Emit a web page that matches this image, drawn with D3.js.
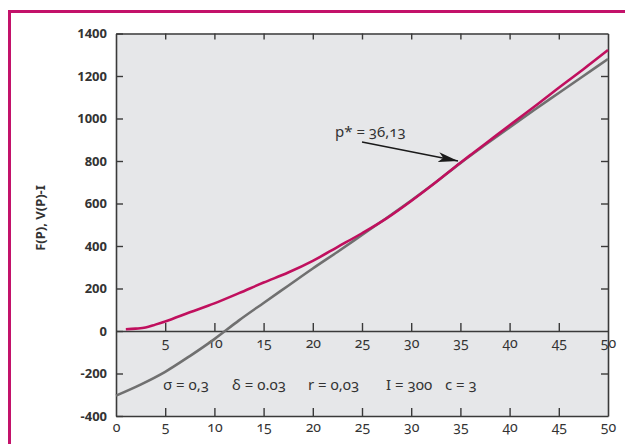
<!DOCTYPE html>
<html lang="en">
<head>
    <meta charset="UTF-8">
    <script src="https://cdn.jsdelivr.net/npm/d3@7"></script>
    <title>F(P), V(P)-I</title>
    <style>
        body { margin: 0; background: #fff; }
        .ytick text { font-family: "Noto Sans", sans-serif; font-weight: 700; font-size: 13px; fill: #333; }
        .xtick text { font-family: "Noto Sans", sans-serif; font-size: 14px; fill: #333; font-variant-numeric: oldstyle-nums; font-feature-settings: "onum" 1; }
        .param { font-family: "Noto Sans", sans-serif; font-size: 15px; fill: #333; font-feature-settings: "onum" 1; }
        .ytitle { font-family: "Noto Sans", sans-serif; font-weight: 700; font-size: 13px; fill: #333; }
    </style>
</head>
<body>
<div id="chart"></div>
<script>
// V(P)-I (gray) and F(P) (red)
var pGray = [0, 2.5, 5, 7.5, 10, 12.5, 15, 17.5, 20, 22.5, 25, 27.5, 30, 32.5, 35, 37.5, 40, 42.5, 45, 47.5, 50];
var vGray = [-304, -252, -192, -118, -38, 50, 132, 213, 294, 372, 452, 532, 614, 700, 790, 875, 958, 1040, 1120, 1200, 1280];
var pRed = [1, 2, 3, 4, 5, 7.5, 10, 12.5, 15, 17.5, 20, 22.5, 25, 27.5, 30, 32.5, 35, 36.13, 37.5, 40, 42.5, 45, 47.5, 50];
var fRed = [8, 11, 16, 30, 45, 88, 130, 178, 228, 275, 330, 395, 460, 530, 612, 700, 792, 832, 880, 968, 1055, 1145, 1232, 1322];
var yTicks = [-400, -200, 0, 200, 400, 600, 800, 1000, 1200, 1400];
var xTicks = [0, 5, 10, 15, 20, 25, 30, 35, 40, 45, 50];
var params = ["σ = 0,3", "δ = 0.03", "r = 0,03", "I = 300", "c = 3"];
var pStar = 36.13;

var W = 625, H = 444;
var svg = d3.select("#chart").append("svg").attr("width", W).attr("height", H);

var x = d3.scaleLinear().domain([0, 50]).range([116, 608]);
var y = d3.scaleLinear().domain([-400, 1400]).range([416, 33.5]);

// crimson frame (left + top)
svg.append("path")
    .attr("d", "M9.5," + H + "V11.5H" + W)
    .attr("fill", "none").attr("stroke", "#c3126a").attr("stroke-width", 3);

// plot background
svg.append("rect")
    .attr("x", x(0)).attr("y", y(1400))
    .attr("width", x(50) - x(0)).attr("height", y(-400) - y(1400))
    .attr("fill", "#e6e7e9");

var axisColor = "#3a3a3a";
function styleAxis(g) {
    g.select(".domain").attr("stroke", axisColor).attr("stroke-width", 1.6);
    g.selectAll(".tick line").attr("stroke", axisColor).attr("stroke-width", 1.4);
}
function plainText(g) {
    g.attr("font-family", null).attr("font-size", null);
    g.selectAll("text").attr("fill", null);
}

// left axis with labels, ticks inward
svg.append("g").attr("class", "ytick")
    .attr("transform", "translate(" + x(0) + ",0)")
    .call(d3.axisLeft(y).tickValues(yTicks).tickSizeInner(-7).tickSizeOuter(0).tickPadding(9).tickFormat(d => String(d)))
    .call(styleAxis)
    .call(plainText);

// right axis, ticks inward
svg.append("g")
    .attr("transform", "translate(" + x(50) + ",0)")
    .call(d3.axisLeft(y).tickValues(yTicks.filter(d => d > -400 && d < 1400 && d !== 0)).tickSizeInner(7).tickSizeOuter(0).tickFormat(""))
    .call(styleAxis);

// top axis, ticks inward
svg.append("g")
    .attr("transform", "translate(0," + y(1400) + ")")
    .call(d3.axisTop(x).tickValues(xTicks.filter(d => d > 0 && d < 50)).tickSizeInner(-6).tickSizeOuter(0).tickFormat(""))
    .call(styleAxis);

// bottom axis
svg.append("g").attr("class", "xtick")
    .attr("transform", "translate(0," + y(-400) + ")")
    .call(d3.axisBottom(x).tickValues(xTicks).tickSizeInner(-8).tickSizeOuter(0).tickPadding(6))
    .call(styleAxis)
    .call(g => g.selectAll(".tick line").filter(d => d === 0 || d === 50).remove())
    .call(plainText);

// zero axis
svg.append("g").attr("class", "xtick")
    .attr("transform", "translate(0," + y(0) + ")")
    .call(d3.axisBottom(x).tickValues(xTicks.filter(d => d > 0)).tickSizeInner(-8).tickSizeOuter(0).tickPadding(7))
    .call(styleAxis)
    .call(g => g.selectAll(".tick line").filter(d => d === 50).remove())
    .call(plainText);

// curves
var line = d3.line().x(d => x(d[0])).y(d => y(d[1])).curve(d3.curveMonotoneX);
svg.append("path")
    .datum(pGray.map((p, i) => [p, vGray[i]]))
    .attr("d", line)
    .attr("fill", "none").attr("stroke", "#707070").attr("stroke-width", 2.6);
svg.append("path")
    .datum(pRed.map((p, i) => [p, fRed[i]]))
    .attr("d", line)
    .attr("fill", "none").attr("stroke", "#c0105e").attr("stroke-width", 2.6);

// annotation p*
svg.append("text").attr("class", "param")
    .attr("x", 335).attr("y", 137)
    .text("p* = " + String(pStar).replace(".", ","));
svg.append("defs").append("marker")
    .attr("id", "arrow").attr("viewBox", "0 0 20 10")
    .attr("refX", 20).attr("refY", 5)
    .attr("markerWidth", 20).attr("markerHeight", 10)
    .attr("markerUnits", "userSpaceOnUse").attr("orient", "auto")
    .append("path").attr("d", "M0,0L20,5L0,10L5,5Z").attr("fill", "#1a1a1a");
svg.append("line")
    .attr("x1", 362).attr("y1", 142)
    .attr("x2", 458).attr("y2", 161)
    .attr("stroke", "#1a1a1a").attr("stroke-width", 1.4)
    .attr("marker-end", "url(#arrow)");

// parameters
var paramX = [163, 232, 308, 386, 445];
svg.selectAll("text.pl").data(params).enter().append("text")
    .attr("class", "param pl")
    .attr("x", (d, i) => paramX[i]).attr("y", 390)
    .text(d => d);

// y axis title
svg.append("text").attr("class", "ytitle")
    .attr("transform", "translate(45,218) rotate(-90)")
    .attr("text-anchor", "middle")
    .text("F(P), V(P)-I");
</script>
</body>
</html>
